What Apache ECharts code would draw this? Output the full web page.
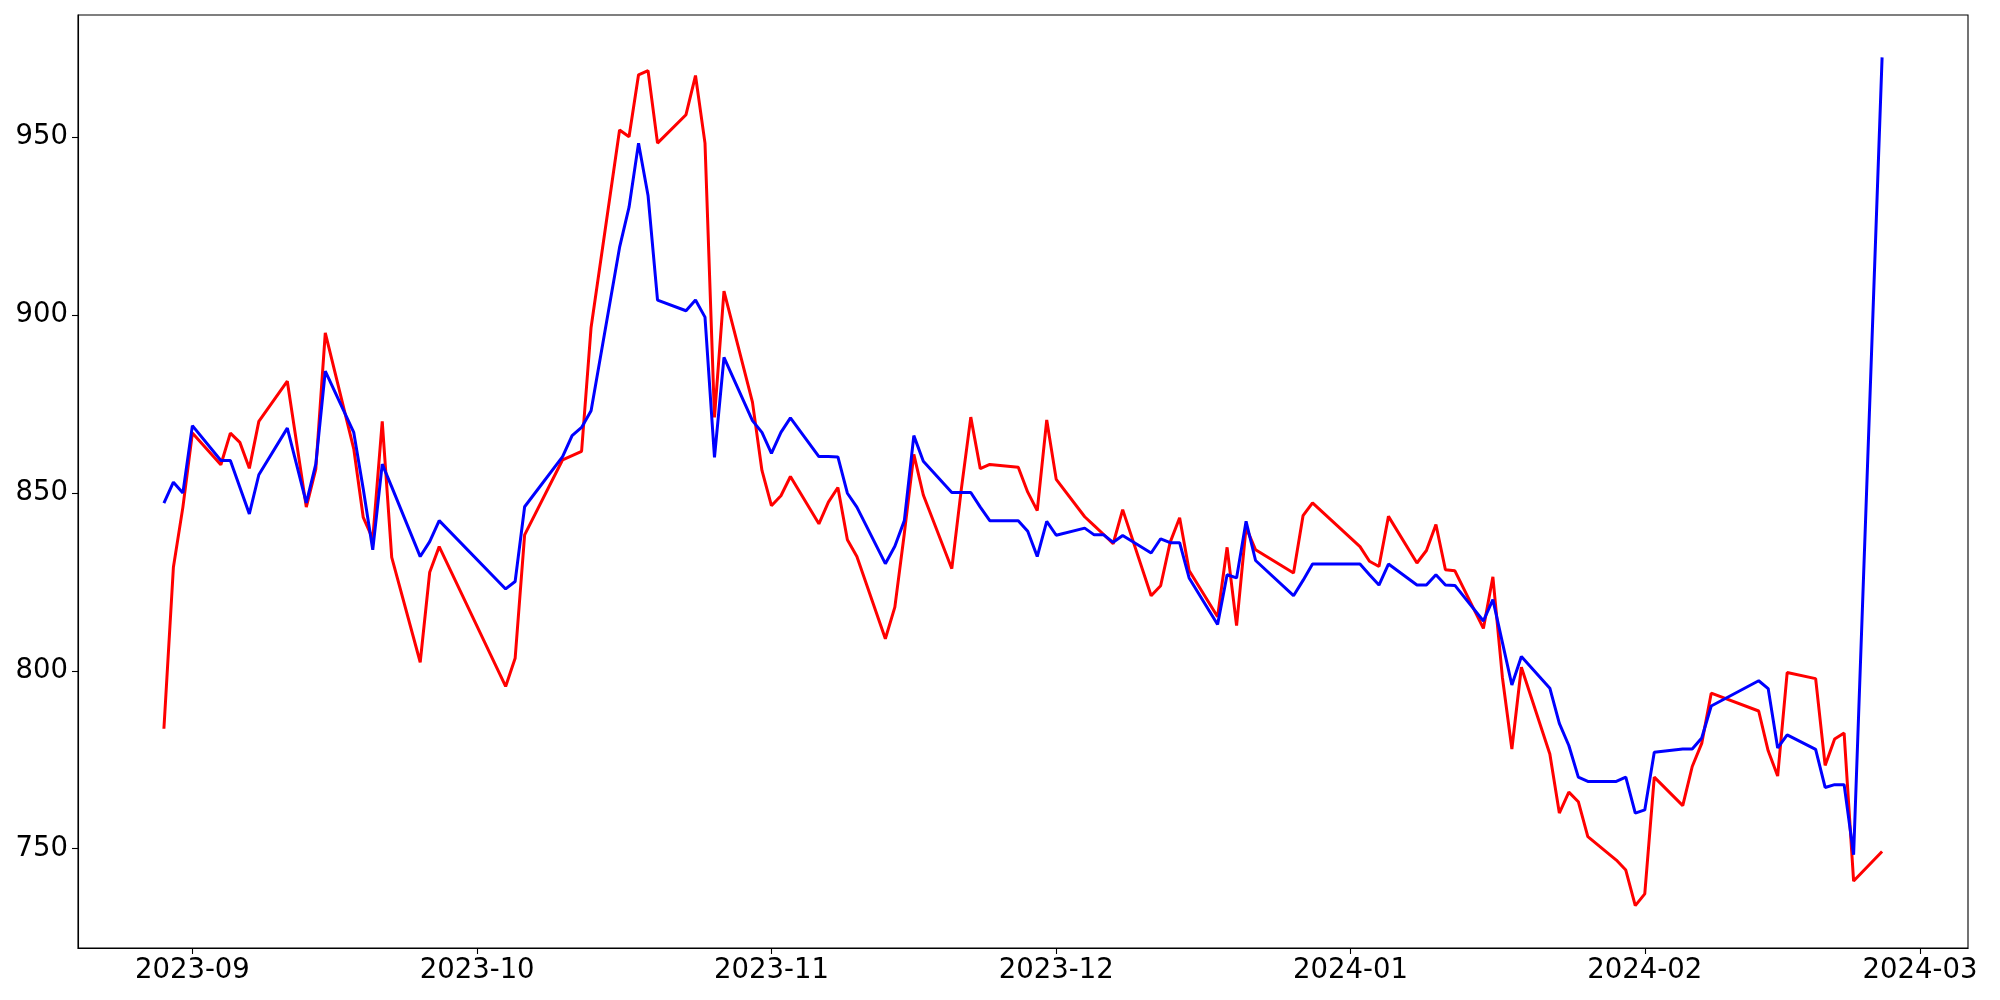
<!DOCTYPE html>
<html>
<head>
<meta charset="utf-8">
<script src="https://cdn.jsdelivr.net/npm/echarts@6/dist/echarts.min.js"></script>
<style>
html,body{margin:0;padding:0;background:#fff;}
#chart{width:2000px;height:1000px;}
</style>
</head>
<body>
<div id="chart"></div>
<script>
const dates = [
 '2023-08-29','2023-08-30','2023-08-31',
 '2023-09-01','2023-09-04','2023-09-05','2023-09-06','2023-09-07','2023-09-08','2023-09-11','2023-09-12','2023-09-13','2023-09-14','2023-09-15','2023-09-18','2023-09-19','2023-09-20','2023-09-21','2023-09-22','2023-09-25','2023-09-26','2023-09-27',
 '2023-10-04','2023-10-05','2023-10-06','2023-10-10','2023-10-11','2023-10-12','2023-10-13','2023-10-16','2023-10-17','2023-10-18','2023-10-19','2023-10-20','2023-10-23','2023-10-24','2023-10-25','2023-10-26','2023-10-27','2023-10-30','2023-10-31',
 '2023-11-01','2023-11-02','2023-11-03','2023-11-06','2023-11-07','2023-11-08','2023-11-09','2023-11-10','2023-11-13','2023-11-14','2023-11-15','2023-11-16','2023-11-17','2023-11-20','2023-11-21','2023-11-22','2023-11-23','2023-11-24','2023-11-27','2023-11-28','2023-11-29','2023-11-30',
 '2023-12-01','2023-12-04','2023-12-05','2023-12-06','2023-12-07','2023-12-08','2023-12-11','2023-12-12','2023-12-13','2023-12-14','2023-12-15','2023-12-18','2023-12-19','2023-12-20','2023-12-21','2023-12-22','2023-12-26','2023-12-27','2023-12-28',
 '2024-01-02','2024-01-03','2024-01-04','2024-01-05','2024-01-08','2024-01-09','2024-01-10','2024-01-11','2024-01-12','2024-01-15','2024-01-16','2024-01-17','2024-01-18','2024-01-19','2024-01-22','2024-01-23','2024-01-24','2024-01-25','2024-01-26','2024-01-29','2024-01-30','2024-01-31',
 '2024-02-01','2024-02-02','2024-02-05','2024-02-06','2024-02-07','2024-02-08','2024-02-13','2024-02-14','2024-02-15','2024-02-16','2024-02-19','2024-02-20','2024-02-21','2024-02-22','2024-02-23','2024-02-26'
];

const redValues = [
 783.7, 829.1, 846.0,
 866.8, 857.9, 866.8, 864.2, 856.9, 870.1, 881.4, 863.7, 846.0, 856.7, 895.0, 862.4, 843.1, 837.1, 870.1, 831.9, 802.4, 827.7, 834.9,
 795.6, 803.5, 838.2, 859.3, 860.5, 861.7, 896.5, 952.0, 950.1, 967.5, 968.7, 948.3, 956.3, 967.3, 948.3, 871.2, 906.7, 875.5, 856.3,
 846.4, 849.2, 854.6, 841.3, 847.4, 851.5, 836.8, 832.1, 809.0, 817.9, 838.6, 860.8, 849.4, 828.7, 851.0, 871.3, 856.8, 858.0, 857.2, 850.2, 845.0, 870.5,
 853.8, 843.3, 840.8, 838.3, 835.7, 845.3, 821.1, 823.9, 836.1, 843.0, 828.2, 815.2, 834.7, 812.7, 840.3, 834.0, 827.5, 843.6, 847.2,
 834.9, 830.8, 829.3, 843.4, 830.3, 833.8, 841.1, 828.4, 828.1, 811.9, 826.4, 798.2, 778.0, 801.0, 776.6, 760.0, 765.9, 763.2, 753.4, 746.8, 744.0, 734.0,
 737.3, 770.1, 762.1, 773.1, 779.6, 793.7, 788.7, 777.5, 770.4, 799.5, 797.8, 773.4, 780.8, 782.5, 740.9, 749.2
];

const blueValues = [
 847.1, 853.0, 850.0,
 868.9, 859.1, 859.1, 851.6, 844.1, 855.1, 868.2, 857.7, 847.2, 858.1, 884.2, 867.0, 851.1, 834.0, 858.1, 851.7, 832.1, 836.3, 842.2,
 823.0, 825.1, 846.1, 860.2, 866.1, 868.4, 873.1, 919.0, 930.3, 948.3, 933.6, 904.2, 901.2, 904.2, 899.4, 860.0, 888.1, 870.3, 867.0,
 861.1, 867.0, 871.1, 860.2, 860.2, 860.1, 849.9, 846.0, 830.1, 835.0, 842.2, 866.1, 858.9, 850.1, 850.1, 850.1, 846.0, 842.2, 842.2, 839.2, 832.1, 842.0,
 838.1, 840.1, 838.2, 838.2, 836.1, 838.0, 833.1, 837.1, 836.0, 836.0, 826.1, 813.0, 827.0, 826.1, 842.0, 831.0, 821.1, 825.4, 830.0,
 830.0, 827.0, 824.1, 830.0, 824.1, 824.1, 827.0, 824.1, 824.0, 814.0, 820.0, 808.0, 796.0, 804.0, 795.1, 785.2, 779.0, 770.1, 768.9, 768.9, 770.1, 760.0,
 760.9, 777.1, 778.0, 778.0, 781.1, 790.1, 797.2, 795.0, 778.3, 782.0, 777.9, 767.2, 768.0, 768.0, 748.3, 972.4
];

const xTickLabels = ['2023-09','2023-10','2023-11','2023-12','2024-01','2024-02','2024-03'];
const yTickLabels = [750, 800, 850, 900, 950];

function parseDay(s) {
  const p = s.split('-').map(Number);
  return Date.UTC(p[0], p[1] - 1, p[2] || 1);
}
const xTicks = xTickLabels.map(parseDay);
const firstT = parseDay(dates[0]);
const lastT = parseDay(dates[dates.length - 1]);
const xPad = (lastT - firstT) * 0.05;

const allVals = redValues.concat(blueValues);
const yMinD = Math.min.apply(null, allVals), yMaxD = Math.max.apply(null, allVals);
const yPad = (yMaxD - yMinD) * 0.05;

const redData = dates.map((d, i) => [parseDay(d), redValues[i]]);
const blueData = dates.map((d, i) => [parseDay(d), blueValues[i]]);

function pad2(n){ return (n < 10 ? '0' : '') + n; }

const chart = echarts.init(document.getElementById('chart'), null, {renderer: 'canvas'});
chart.setOption({
  animation: false,
  backgroundColor: '#ffffff',
  grid: {
    left: 78, right: 32, top: 15, bottom: 52,
    show: true, borderColor: '#000000', borderWidth: 1.1,
    backgroundColor: 'transparent'
  },
  xAxis: {
    type: 'value',
    min: firstT - xPad,
    max: lastT + xPad,
    axisLine: { show: true, onZero: false, lineStyle: { color: '#000', width: 1.1 } },
    axisTick: { show: true, length: 6, lineStyle: { color: '#000', width: 1.1 }, customValues: xTicks },
    axisLabel: {
      customValues: xTicks,
      color: '#000',
      fontFamily: 'DejaVu Sans',
      fontSize: 27.5,
      margin: 9,
      formatter: function (v) {
        const d = new Date(v);
        return d.getUTCFullYear() + '-' + pad2(d.getUTCMonth() + 1);
      }
    },
    splitLine: { show: false }
  },
  yAxis: {
    type: 'value',
    min: yMinD - yPad,
    max: yMaxD + yPad,
    axisLine: { show: true, onZero: false, lineStyle: { color: '#000', width: 1.1 } },
    axisTick: { show: true, length: 6, lineStyle: { color: '#000', width: 1.1 }, customValues: yTickLabels },
    axisLabel: {
      customValues: yTickLabels,
      color: '#000',
      fontFamily: 'DejaVu Sans',
      fontSize: 27.5,
      margin: 10
    },
    splitLine: { show: false }
  },
  series: [
    {
      name: 'red', type: 'line', data: redData, showSymbol: false, symbol: 'none',
      lineStyle: { color: '#ff0000', width: 3 }, itemStyle: { color: '#ff0000' }, z: 2
    },
    {
      name: 'blue', type: 'line', data: blueData, showSymbol: false, symbol: 'none',
      lineStyle: { color: '#0000ff', width: 3 }, itemStyle: { color: '#0000ff' }, z: 3
    }
  ]
});
</script>
</body>
</html>
